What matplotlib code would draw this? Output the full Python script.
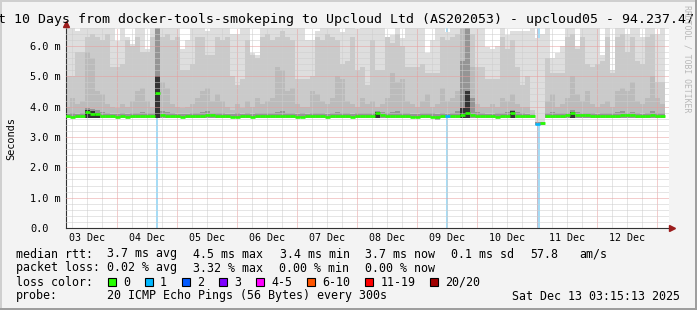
import matplotlib
matplotlib.use("Agg")
import matplotlib.pyplot as plt
from matplotlib.patches import Rectangle
from matplotlib.lines import Line2D
from matplotlib.ticker import MultipleLocator
import numpy as np

W, H = 697, 310
MONO = "DejaVu Sans Mono"

# ---- data: x in days since 03 Dec 00:00, one smoke column per 2 hours ----
t_start = 0.135          # Dec 3 03:15
bin_days = 1 / 12        # 2 h

ping_max = [
    6.7, 6.7, 6.5, 6.7, 6.7, 6.7, 6.7, 6.7, 6.7, 6.7,
    6.15, 6.7, 6.3, 6.05, 6.7, 6.7, 5.9, 6.7, 6.7, 6.7,
    6.7, 6.7, 6.7, 5.9, 6.2, 6.7, 6.7, 6.7, 6.5, 6.7,
    6.7, 6.7, 6.7, 6.4, 6.4, 6.7, 6.7, 5.75, 5.7, 6.7,
    6.7, 6.7, 6.7, 6.7, 6.7, 6.7, 6.7, 6.7, 6.2, 6.2,
    6.5, 6.7, 6.7, 6.7, 6.7, 6.45, 6.7, 6.7, 6.55, 6.7,
    6.7, 6.7, 6.7, 6.7, 6.3, 6.35, 6.7, 6.25, 6.7, 6.7,
    6.7, 6.7, 5.75, 6.2, 6.7, 6.7, 6.45, 6.7, 6.7, 6.7,
    6.7, 6.7, 6.7, 6.7, 5.95, 5.9, 6.0, 6.7, 6.35, 6.5,
    6.5, 6.5, 6.5, 6.7, 6.25, 6.4, 6.7, 5.6, 5.75, 6.0,
    6.7, 6.7, 6.0, 6.7, 6.7, 6.7, 6.7, 5.7, 6.7, 5.2,
    6.7, 6.7, 6.4, 6.7, 6.7, 6.3, 6.7, 6.7, 6.4, 6.7,
]
ping_light = [
    5.0, 5.0, 5.8, 5.8, 6.3, 6.4, 6.3, 6.2, 6.4, 5.3,
    5.3, 5.4, 6.2, 6.0, 6.3, 5.8, 5.8, 6.3, 6.6, 6.3,
    6.4, 6.2, 6.3, 5.2, 5.2, 5.4, 6.3, 6.3, 5.7, 5.7,
    6.3, 6.2, 6.3, 5.0, 4.7, 4.9, 6.2, 5.7, 5.6, 6.3,
    6.4, 6.2, 6.3, 6.5, 6.3, 6.2, 4.9, 4.9, 4.9, 5.0,
    6.3, 6.2, 6.4, 6.3, 6.2, 5.4, 5.5, 6.3, 5.2, 5.3,
    4.7, 6.2, 5.2, 5.2, 6.3, 6.1, 6.4, 6.0, 5.3, 5.3,
    5.3, 5.4, 5.1, 5.1, 5.1, 6.3, 6.2, 6.3, 6.4, 6.6,
    6.6, 6.4, 5.3, 5.3, 4.9, 4.9, 4.9, 6.3, 5.9, 6.2,
    5.3, 4.7, 5.0, 3.9, 3.5, 3.5, 5.6, 5.1, 5.1, 5.1,
    6.3, 6.4, 5.9, 6.3, 5.4, 5.3, 5.4, 5.5, 6.3, 5.1,
    6.3, 6.4, 5.8, 6.3, 5.5, 5.4, 6.3, 6.4, 4.8, 4.8,
]
ping_mid = [
    4.0, 4.3, 4.1, 4.2, 5.8, 5.6, 4.5, 4.4, 4.1, 4.0,
    3.95, 4.1, 4.0, 4.2, 4.5, 4.6, 4.2, 4.0, 6.6, 4.8,
    4.6, 4.1, 4.0, 3.95, 4.0, 4.1, 4.3, 4.5, 4.6, 4.2,
    4.4, 4.2, 4.0, 3.9, 4.1, 3.95, 4.2, 4.0, 4.3, 4.1,
    4.2, 4.3, 5.3, 5.2, 4.5, 4.6, 4.1, 4.0, 4.0, 4.5,
    4.4, 4.2, 4.1, 4.3, 5.0, 4.9, 4.2, 4.1, 4.0, 4.3,
    4.1, 4.2, 4.0, 4.1, 4.3, 5.1, 4.8, 4.9, 4.2, 4.1,
    4.0, 4.2, 4.4, 4.0, 4.1, 4.6, 4.2, 4.3, 4.5, 6.6,
    6.6, 5.3, 4.1, 4.0, 4.0, 4.1, 4.0, 4.3, 4.2, 4.4,
    4.1, 4.0, 4.0, 3.8, 3.5, 3.5, 4.2, 4.4, 4.0, 4.1,
    4.3, 5.0, 4.4, 4.2, 4.5, 4.1, 4.0, 4.1, 4.2, 4.0,
    4.5, 4.6, 4.5, 4.8, 4.2, 4.1, 4.3, 5.0, 4.3, 4.1,
]
ping_dark = [
    3.76, 3.78, 3.77, 3.8, 3.95, 3.92, 3.88, 3.82, 3.78, 3.77,
    3.76, 3.78, 3.77, 3.78, 3.8, 3.82, 3.78, 3.79, 6.7, 3.85,
    3.82, 3.78, 3.77, 3.76, 3.77, 3.78, 3.8, 3.82, 3.85, 3.8,
    3.8, 3.78, 3.77, 3.76, 3.78, 3.77, 3.78, 3.76, 3.8, 3.78,
    3.78, 3.8, 3.82, 3.85, 3.8, 3.79, 3.77, 3.78, 3.76, 3.8,
    3.79, 3.78, 3.77, 3.8, 3.82, 3.8, 3.78, 3.77, 3.78, 3.8,
    3.78, 3.8, 3.85, 3.82, 3.78, 3.82, 3.85, 3.8, 3.78, 3.77,
    3.76, 3.78, 3.8, 3.78, 3.76, 3.78, 3.77, 3.8, 3.85, 5.5,
    6.7, 4.3, 3.82, 3.78, 3.77, 3.76, 3.78, 3.8, 3.82, 3.9,
    3.82, 3.78, 3.77, 3.72, 3.5, 3.5, 3.78, 3.82, 3.8, 3.78,
    3.8, 3.88, 3.82, 3.8, 3.79, 3.78, 3.77, 3.78, 3.8, 3.78,
    3.82, 3.85, 3.8, 3.82, 3.78, 3.77, 3.8, 3.85, 3.8, 3.78,
]
ping_core = [  # 0 = no black core in that column
    0, 0, 0, 0, 3.88, 3.86, 3.8, 0, 0, 0,
    0, 0, 0, 0, 0, 0, 0, 0, 5.0, 0,
    0, 0, 0, 0, 0, 0, 0, 0, 0, 0,
    0, 0, 0, 0, 0, 0, 0, 0, 0, 0,
    0, 0, 0, 0, 0, 0, 0, 0, 0, 0,
    0, 0, 0, 0, 0, 0, 0, 0, 0, 0,
    0, 0, 3.82, 0, 0, 0, 0, 0, 0, 0,
    0, 0, 0, 0, 0, 0, 0, 0, 0, 3.95,
    4.5, 0, 0, 0, 0, 0, 0, 0, 0, 3.84,
    0, 0, 0, 0, 0, 0, 0, 0, 0, 0,
    0, 3.82, 0, 0, 0, 0, 0, 0, 0, 0,
    0, 0, 0, 0, 0, 0, 0, 0, 0, 0,
]
ping_min = [
    3.62, 3.62, 3.62, 3.62, 3.62, 3.62, 3.62, 3.62, 3.62, 3.62,
    3.62, 3.62, 3.62, 3.62, 3.62, 3.62, 3.62, 3.62, 3.63, 3.62,
    3.62, 3.62, 3.62, 3.62, 3.62, 3.62, 3.62, 3.62, 3.62, 3.62,
    3.62, 3.62, 3.62, 3.62, 3.62, 3.62, 3.62, 3.62, 3.62, 3.62,
    3.62, 3.62, 3.62, 3.62, 3.62, 3.62, 3.62, 3.62, 3.62, 3.62,
    3.62, 3.62, 3.62, 3.62, 3.62, 3.62, 3.62, 3.62, 3.62, 3.62,
    3.62, 3.62, 3.62, 3.62, 3.62, 3.62, 3.62, 3.62, 3.62, 3.62,
    3.62, 3.62, 3.62, 3.62, 3.55, 3.62, 3.62, 3.62, 3.62, 3.62,
    3.62, 3.62, 3.62, 3.62, 3.62, 3.62, 3.62, 3.62, 3.62, 3.62,
    3.62, 3.62, 3.62, 3.62, 3.38, 3.40, 3.62, 3.62, 3.62, 3.62,
    3.62, 3.62, 3.62, 3.62, 3.62, 3.62, 3.62, 3.62, 3.62, 3.62,
    3.62, 3.62, 3.62, 3.62, 3.62, 3.62, 3.62, 3.62, 3.62, 3.62,
]
median = [
    3.68, 3.67, 3.68, 3.69, 3.83, 3.76, 3.75, 3.70, 3.68, 3.68,
    3.67, 3.68, 3.67, 3.68, 3.68, 3.69, 3.68, 3.68, 4.45, 3.72,
    3.70, 3.68, 3.68, 3.67, 3.68, 3.68, 3.69, 3.70, 3.71, 3.71,
    3.70, 3.69, 3.68, 3.67, 3.67, 3.68, 3.68, 3.67, 3.68, 3.68,
    3.68, 3.69, 3.69, 3.70, 3.69, 3.68, 3.67, 3.67, 3.68, 3.69,
    3.68, 3.68, 3.67, 3.68, 3.69, 3.68, 3.68, 3.67, 3.68, 3.69,
    3.68, 3.69, 3.78, 3.72, 3.70, 3.69, 3.69, 3.68, 3.68, 3.67,
    3.67, 3.68, 3.68, 3.67, 3.66, 3.68, 3.68, 3.69, 3.70, 3.72,
    3.78, 3.72, 3.69, 3.68, 3.68, 3.68, 3.67, 3.68, 3.69, 3.78,
    3.70, 3.68, 3.68, 3.68, 3.44, 3.47, 3.68, 3.68, 3.69, 3.70,
    3.71, 3.78, 3.72, 3.72, 3.71, 3.70, 3.70, 3.69, 3.69, 3.68,
    3.70, 3.71, 3.71, 3.71, 3.70, 3.70, 3.70, 3.71, 3.70, 3.70,
]
lost_pings = [0] * 120
lost_pings[76] = 1
lost_pings[94] = 1

# loss events (start day, duration in days) drawn as full height bars
loss_start = [1.65, 6.483, 8.0]
loss_len = [0.034, 0.034, 0.058]

loss_labels = ["0", "1", "2", "3", "4-5", "6-10", "11-19", "20/20"]
loss_colors = ["#26ff00", "#00b8ff", "#0059ff", "#7e00ff", "#ff00ff",
               "#ff5500", "#ff0000", "#a10000"]

day_labels = ["03 Dec", "04 Dec", "05 Dec", "06 Dec", "07 Dec",
              "08 Dec", "09 Dec", "10 Dec", "11 Dec", "12 Dec"]
day_noon = [0.5, 1.5, 2.5, 3.5, 4.5, 5.5, 6.5, 7.5, 8.5, 9.5]

y_ticks = [0, 1, 2, 3, 4, 5, 6]
y_labels = ["0.0", "1.0 m", "2.0 m", "3.0 m", "4.0 m", "5.0 m", "6.0 m"]

rtt_stats = ["3.7 ms avg", "4.5 ms max", "3.4 ms min", "3.7 ms now",
             "0.1 ms sd", "57.8", "am/s"]
loss_stats = ["0.02 % avg", "3.32 % max", "0.00 % min", "0.00 % now"]

title = ("Last 10 Days from docker-tools-smokeping to Upcloud Ltd "
         "(AS202053) - upcloud05 - 94.237.47.")


def px(x, y):
    return x / W, 1 - y / H


# ---- figure ----
fig = plt.figure(figsize=(W / 100, H / 100), dpi=100, facecolor="#f3f3f3")
ax = fig.add_axes([66 / W, 1 - 228 / H, 603 / W, 200.3 / H])
ax.set_facecolor("white")
ax.set_xlim(0.15, 10.2)
ax.set_ylim(0, 6.6)

edges = t_start + np.arange(len(median) + 1) * bin_days
pmin = np.array(ping_min)

# loss bars behind the smoke
for s, d in zip(loss_start, loss_len):
    ax.axvspan(s, s + d, color="#a6dcf6", lw=0, zorder=0.5)

# smoke layers
ax.stairs(ping_max, edges, baseline=pmin, fill=True, color="#dedede", lw=0, zorder=1)
ax.stairs(ping_light, edges, baseline=pmin, fill=True, color="#cacaca", lw=0, zorder=1.1)
ax.stairs(ping_mid, edges, baseline=pmin, fill=True, color="#bbbbbb", lw=0, zorder=1.2)
ax.stairs(ping_dark, edges, baseline=pmin, fill=True, color="#959595", lw=0, zorder=1.3)
core = np.where(np.array(ping_core) > 0, ping_core, pmin)
ax.stairs(core, edges, baseline=pmin, fill=True, color="#333333", lw=0, zorder=1.4)

# median line coloured by loss
def loss_color(n):
    if n <= 3:
        return loss_colors[n]
    if n <= 5:
        return loss_colors[4]
    if n <= 10:
        return loss_colors[5]
    if n <= 19:
        return loss_colors[6]
    return loss_colors[7]

ax.hlines(median, edges[:-1], edges[1:], colors=[loss_color(n) for n in lost_pings],
          lw=1.9, zorder=4)

# grid
ax.xaxis.set_major_locator(MultipleLocator(1))
ax.xaxis.set_minor_locator(MultipleLocator(0.25))
ax.yaxis.set_minor_locator(MultipleLocator(0.2))
ax.set_yticks(y_ticks, y_labels)
ax.set_axisbelow(False)
ax.grid(which="minor", color="#cdcdcd", ls=(0, (1, 1)), lw=0.72)
ax.grid(which="major", color="#e99c9c", ls=(0, (1, 1)), lw=0.72)
ax.set_xticklabels([])
ax.tick_params(which="both", length=0)
ax.tick_params(axis="y", pad=25.9, labelsize=7.4)
for lab in ax.get_yticklabels():
    lab.set_ha("left")
    lab.set_family(MONO)

for t, lab in zip(day_noon, day_labels):
    ax.annotate(lab, xy=(t, 0), xycoords=("data", "axes fraction"),
                xytext=(0, -13 * 0.72), textcoords="offset points",
                ha="center", va="baseline", fontsize=7.2, family=MONO)

for side in ("top", "right"):
    ax.spines[side].set_visible(False)
for side in ("left", "bottom"):
    ax.spines[side].set_color("#333333")
    ax.spines[side].set_linewidth(0.8)

# axis arrows
fig.add_artist(Line2D([66 / W], [1 - 24 / H], marker="^", ms=4.5, color="#9b1c1c", lw=0))
fig.add_artist(Line2D([672 / W], [1 - 228 / H], marker=">", ms=4.5, color="#9b1c1c", lw=0))

# texts
fig.text(*px(-26.5, 23.5), title, ha="left", va="baseline", fontsize=9.5, family=MONO)
fig.text(*px(11, 139), "Seconds", rotation=90, ha="center", va="center",
         fontsize=7.4, family=MONO)
fig.text(*px(687.5, 59), "RRDTOOL / TOBI OETIKER", rotation=270, ha="center",
         va="center", fontsize=5.9, color="#b8b8b8", family=MONO)

fs = 8.4
fig.text(*px(16, 257.5), "median rtt:", fontsize=fs, family=MONO, va="baseline")
for s, x in zip(rtt_stats, [107, 193, 280, 365, 451, 530, 579]):
    fig.text(*px(x, 257.5), s, fontsize=fs, family=MONO, va="baseline")
fig.text(*px(16, 271.5), "packet loss:", fontsize=fs, family=MONO, va="baseline")
for s, x in zip(loss_stats, [107, 193, 279, 365]):
    fig.text(*px(x, 271.5), s, fontsize=fs, family=MONO, va="baseline")
fig.text(*px(16, 285.5), "loss color:", fontsize=fs, family=MONO, va="baseline")
cur = 108
for lab, col in zip(loss_labels, loss_colors):
    fig.add_artist(Rectangle(px(cur, 285.5), 8 / W, 8 / H, facecolor=col,
                             edgecolor="black", lw=0.8))
    fig.text(*px(cur + 15, 285.5), lab, fontsize=fs, family=MONO, va="baseline")
    cur = cur + 15 + len(lab) * 7.02 + 15
fig.text(*px(16, 299.5), "probe:", fontsize=fs, family=MONO, va="baseline")
fig.text(*px(107, 299.5), "20 ICMP Echo Pings (56 Bytes) every 300s",
         fontsize=fs, family=MONO, va="baseline")
fig.text(*px(680, 299.5), "Sat Dec 13 03:15:13 2025", fontsize=fs, family=MONO,
         va="baseline", ha="right")

# 3d frame
fig.add_artist(Rectangle((0, 1 - 2 / H), 1, 2 / H, color="#cfcfcf", lw=0))
fig.add_artist(Rectangle((0, 0), 2 / W, 1, color="#cfcfcf", lw=0))
fig.add_artist(Rectangle((0, 0), 1, 2 / H, color="#9e9e9e", lw=0))
fig.add_artist(Rectangle((1 - 2 / W, 0), 2 / W, 1, color="#9e9e9e", lw=0))

fig.savefig("out.png", dpi=100, facecolor=fig.get_facecolor())
